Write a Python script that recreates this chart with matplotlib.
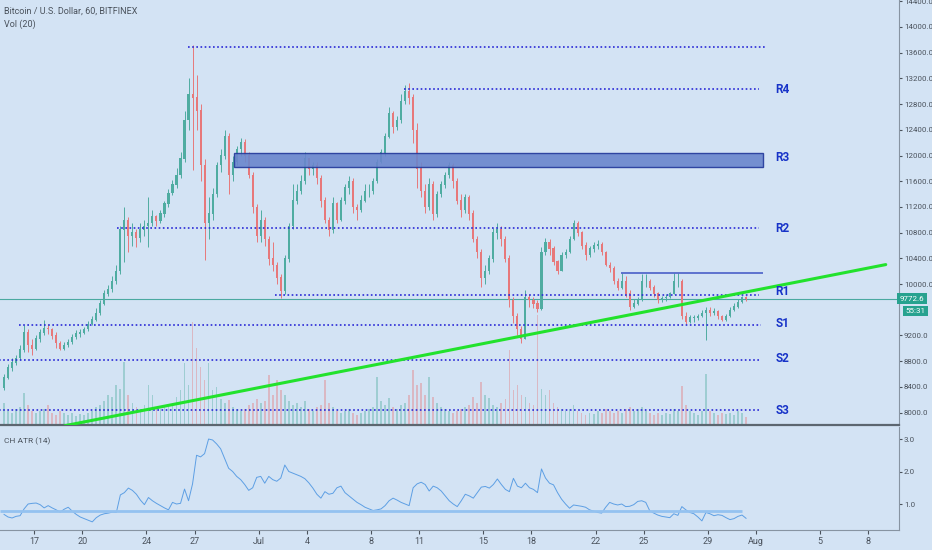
import datetime as dt
import matplotlib
matplotlib.use("Agg")
import matplotlib.pyplot as plt
import matplotlib.dates as mdates
import matplotlib.transforms as mtransforms
from matplotlib.patches import Rectangle
import numpy as np

plt.rcParams['font.family'] = ['Roboto', 'DejaVu Sans']

# 6h candles, starting 15 Jun 2019 00:00 UTC
first_open = 8380
closes = [
    8550, 8700, 8780, 8850, 8980, 9250, 9050, 9000,
    9150, 9250, 9320, 9300, 9200, 9080, 9000, 9050,
    9100, 9180, 9230, 9250, 9300, 9380, 9450, 9550,
    9700, 9850, 9920, 10050, 10200, 10850, 11000, 10750,
    10800, 10720, 10850, 10900, 10950, 11050, 10980, 11100,
    11250, 11420, 11550, 11700, 11950, 12550, 12950, 12900,
    12700, 11850, 10950, 11100, 11400, 11850, 12000, 12300,
    11700, 11900, 12100, 12200, 12000, 11700, 11200, 10750,
    11000, 10700, 10400, 10300, 10100, 9900, 10400, 10900,
    11300, 11450, 11600, 11950, 11800, 11850, 11650, 11300,
    11000, 10850, 11250, 11000, 11300, 11500, 11600, 11200,
    11150, 11300, 11450, 11450, 11600, 11900, 12050, 12300,
    12650, 12450, 12550, 12850, 13000, 12900, 12400, 11800,
    11450, 11200, 11550, 11100, 11400, 11550, 11700, 11850,
    11600, 11300, 11150, 11350, 11100, 10700, 10500, 10100,
    10200, 10400, 10800, 10850, 10700, 10400, 9750, 9500,
    9300, 9150, 9800, 9750, 9700, 9620, 10500, 10650,
    10550, 10350, 10200, 10450, 10500, 10700, 10950, 10800,
    10600, 10450, 10550, 10600, 10620, 10500, 10300, 10250,
    10050, 9950, 10050, 9850, 9650, 9700, 9750, 10050,
    10050, 9950, 9850, 9750, 9780, 9800, 9850, 10050,
    10050, 9500, 9420, 9480, 9480, 9500, 9550, 9600,
    9550, 9580, 9500, 9450, 9500, 9600, 9650, 9720,
    9790, 9772.6,
]
highs = [
    8600, 8760, 8850, 8900, 9050, 9360, 9300, 9150,
    9200, 9300, 9440, 9380, 9320, 9250, 9120, 9100,
    9150, 9220, 9280, 9300, 9330, 9420, 9500, 9620,
    9750, 9900, 9980, 10120, 10300, 10900, 11200, 11050,
    10950, 10850, 10950, 11000, 11350, 11150, 11080, 11150,
    11300, 11480, 11620, 11800, 12050, 12700, 13200, 13720,
    13250, 12800, 11950, 11350, 11500, 11900, 12100, 12400,
    12350, 12000, 12150, 12280, 12250, 12050, 11750, 11250,
    11150, 11050, 10750, 10650, 10350, 10150, 10450, 10950,
    11550, 11550, 11700, 12050, 11950, 11900, 11900, 11700,
    11350, 11050, 11350, 11280, 11350, 11550, 11680, 11650,
    11250, 11380, 11550, 11550, 11650, 11950, 12100, 12350,
    12750, 12700, 12620, 12950, 13100, 13130, 12950, 12500,
    11900, 11550, 11650, 11600, 11450, 11600, 11750, 11900,
    11880, 11650, 11400, 11400, 11380, 11150, 10750, 10550,
    10300, 10450, 10880, 10950, 10900, 10750, 10450, 9800,
    9550, 9350, 9900, 9850, 9800, 9750, 10580, 10720,
    10700, 10600, 10380, 10500, 10550, 10750, 11000, 10980,
    10820, 10650, 10600, 10650, 10680, 10650, 10520, 10350,
    10280, 10100, 10170, 10120, 9900, 9760, 9800, 10150,
    10150, 10080, 9980, 9870, 9820, 9840, 9880, 10170,
    10170, 10080, 9560, 9520, 9520, 9540, 9590, 9650,
    9640, 9620, 9600, 9520, 9540, 9650, 9700, 9760,
    9820, 9810,
]
lows = [
    8350, 8520, 8650, 8740, 8820, 8950, 8950, 8900,
    8980, 9100, 9200, 9220, 9150, 9000, 8970, 8980,
    9020, 9060, 9150, 9180, 9220, 9270, 9360, 9430,
    9520, 9680, 9820, 9880, 10000, 10150, 10350, 10500,
    10600, 10580, 10650, 10750, 10580, 10900, 10900, 10950,
    11050, 11200, 11380, 11500, 11650, 11900, 12400, 11770,
    12400, 11600, 10370, 10700, 11000, 11350, 11750, 11950,
    11400, 11600, 11850, 12000, 11900, 11650, 11100, 10650,
    10650, 10600, 10300, 10200, 10000, 9780, 9850, 10350,
    10850, 11250, 11400, 11550, 11700, 11700, 11550, 11200,
    10950, 10750, 10800, 10950, 10980, 11250, 11400, 11100,
    11000, 11120, 11280, 11350, 11400, 11580, 11880, 12000,
    12280, 12350, 12400, 12500, 12800, 12800, 12200, 11500,
    11350, 11100, 11150, 11000, 11050, 11350, 11500, 11650,
    11500, 11250, 11050, 11100, 11000, 10650, 10400, 9950,
    10000, 10150, 10350, 10700, 10600, 10350, 9650, 9400,
    9200, 9080, 9150, 9650, 9620, 9560, 9600, 10450,
    10450, 10300, 10150, 10200, 10400, 10480, 10680, 10750,
    10550, 10380, 10420, 10500, 10550, 10450, 10280, 10180,
    10000, 9900, 9920, 9800, 9600, 9620, 9680, 9740,
    9950, 9900, 9800, 9700, 9720, 9740, 9780, 9840,
    9950, 9450, 9380, 9400, 9410, 9440, 9480, 9130,
    9500, 9520, 9460, 9420, 9420, 9490, 9580, 9620,
    9700, 9740,
]
volumes = [
    22, 14, 12, 16, 18, 32, 20, 14, 12, 14, 16, 20, 12, 10, 14, 12,
    10, 12, 9, 11, 10, 12, 14, 18, 20, 24, 30, 28, 40, 36, 63, 30,
    22, 18, 16, 20, 40, 30, 18, 16, 20, 18, 22, 28, 35, 62, 40, 103,
    77, 58, 45, 62, 35, 38, 26, 22, 25, 18, 16, 14, 16, 20, 22, 26,
    22, 24, 50, 30, 45, 35, 30, 24, 20, 22, 18, 24, 16, 14, 18, 20,
    45, 22, 18, 14, 12, 14, 16, 12, 10, 12, 14, 16, 18, 48, 24, 20,
    27, 18, 16, 20, 22, 30, 55, 40, 42, 30, 48, 28, 22, 18, 16, 14,
    12, 14, 16, 18, 20, 28, 22, 43, 30, 27, 20, 18, 22, 26, 75, 35,
    40, 30, 28, 22, 20, 110, 36, 30, 35, 22, 18, 16, 14, 16, 20, 14,
    12, 10, 12, 11, 14, 12, 16, 14, 12, 14, 12, 16, 18, 14, 16, 18,
    14, 12, 10, 12, 10, 12, 11, 16, 14, 39, 20, 14, 12, 10, 14, 51,
    14, 12, 10, 12, 11, 12, 10, 14, 12, 8,
]
atr = [
    0.68, 0.60, 0.57, 0.62, 0.64, 0.85, 1.00, 1.02,
    1.03, 0.98, 0.88, 0.95, 0.88, 0.82, 0.75, 0.84,
    0.90, 0.78, 0.68, 0.60, 0.55, 0.50, 0.45, 0.58,
    0.66, 0.70, 0.72, 0.75, 0.74, 1.28, 1.35, 1.49,
    1.42, 1.30, 1.12, 0.98, 1.20, 1.10, 1.02, 0.95,
    0.88, 0.82, 1.05, 1.00, 1.02, 1.46, 1.10, 1.62,
    2.50, 2.45, 2.55, 3.00, 2.97, 2.85, 2.70, 2.40,
    2.10, 2.00, 1.85, 1.75, 1.60, 1.42, 1.50, 1.82,
    1.85, 1.64, 1.85, 1.75, 1.70, 1.80, 2.20, 2.00,
    1.95, 1.90, 1.85, 1.78, 1.65, 1.49, 1.30, 1.18,
    1.38, 1.30, 1.33, 1.50, 1.55, 1.35, 1.25, 1.15,
    1.05, 0.98, 0.90, 0.85, 0.80, 0.82, 0.85, 0.95,
    1.10, 1.18, 1.12, 1.05, 1.00, 0.95, 1.50, 1.62,
    1.67, 1.60, 1.40, 1.55, 1.50, 1.40, 1.25, 1.10,
    1.00, 0.92, 1.10, 1.30, 1.25, 1.18, 1.35, 1.52,
    1.54, 1.49, 1.60, 1.77, 1.60, 1.45, 1.38, 1.79,
    1.55, 1.50, 1.64, 1.50, 1.45, 1.35, 2.08, 1.80,
    1.64, 1.59, 1.35, 1.15, 1.00, 0.87, 0.97, 0.95,
    0.93, 0.90, 0.82, 0.78, 0.74, 0.72, 0.90, 1.05,
    1.00, 0.97, 1.00, 0.92, 0.93, 0.98, 1.08, 1.10,
    1.05, 0.79, 0.72, 0.66, 0.62, 0.60, 0.58, 0.70,
    0.65, 0.92, 0.82, 0.74, 0.70, 0.60, 0.48, 0.74,
    0.70, 0.64, 0.67, 0.65, 0.58, 0.52, 0.55, 0.62,
    0.66, 0.56,
]
atr_level = 0.79
last_price = 9772.6

# drawn levels: (start, end, price)
dotted_levels = [
    (dt.datetime(2019, 6, 26, 14), dt.datetime(2019, 8, 1, 15), 13690),
    (dt.datetime(2019, 7, 10, 2), dt.datetime(2019, 8, 1, 5), 13035),
    (dt.datetime(2019, 6, 22, 4), dt.datetime(2019, 8, 1, 5), 10872),
    (dt.datetime(2019, 7, 2, 1), dt.datetime(2019, 8, 1, 5), 9830),
    (dt.datetime(2019, 6, 16, 2), dt.datetime(2019, 8, 1, 8), 9363),
    (dt.datetime(2019, 6, 14, 12), dt.datetime(2019, 8, 1, 5), 8818),
    (dt.datetime(2019, 6, 14, 12), dt.datetime(2019, 8, 1, 8), 8040),
]
range_top = (dt.datetime(2019, 7, 23, 14), dt.datetime(2019, 8, 1, 10), 10172)
zone = (dt.datetime(2019, 6, 29, 11), dt.datetime(2019, 8, 1, 10), 11820, 12040)
trend = ([dt.datetime(2019, 6, 18, 22), dt.datetime(2019, 8, 9, 2)], [7796, 10303])
level_names = ["R4", "R3", "R2", "R1", "S1", "S2", "S3"]
level_label_prices = [13035, 11977, 10872, 9877, 9380, 8834, 8025]

date_ticks = [dt.datetime(2019, 6, d) for d in (17, 20, 24, 27)] + \
    [dt.datetime(2019, 7, d) for d in (1, 4, 8, 11, 15, 18, 22, 25, 29)] + \
    [dt.datetime(2019, 8, d) for d in (1, 5, 8)]
date_labels = ["17", "20", "24", "27", "Jul", "4", "8", "11", "15", "18",
               "22", "25", "29", "Aug", "5", "8"]
price_ticks = [8000, 8400, 8800, 9200, 10000, 10400, 10800, 11200, 11600,
               12000, 12400, 12800, 13200, 13600, 14000, 14400]

BG = "#d3e3f4"
UP = "#4faca1"
DN = "#e7787a"
LVL = "#2a2ad6"
TXT = "#4a525c"

opens = np.r_[first_open, closes[:-1]]
closes_a = np.array(closes)
hi = np.maximum(np.array(highs), np.maximum(opens, closes_a))
lo = np.minimum(np.array(lows), np.minimum(opens, closes_a))
t0 = mdates.date2num(dt.datetime(2019, 6, 15))
t = t0 + (np.arange(len(closes)) + 0.5) * 0.25
up = closes_a >= opens
cols = np.where(up, UP, DN)

fig = plt.figure(figsize=(9.32, 5.5), dpi=100, facecolor=BG)
rect = [0, 1 - 425 / 550, 899 / 932, 425 / 550]
vax = fig.add_axes(rect)
ax = fig.add_axes(rect, sharex=vax)
ax2 = fig.add_axes([0, 1 - 530 / 550, 899 / 932, 103 / 550], sharex=vax)
vax.set_zorder(0)
ax.set_zorder(1)
ax.patch.set_visible(False)
vax.set_facecolor(BG)
ax2.set_facecolor(BG)

x0 = mdates.date2num(dt.datetime(2019, 6, 14, 20, 57))
x1 = mdates.date2num(dt.datetime(2019, 8, 9, 21, 50))
ax.set_xlim(x0, x1)

# volume
vax.bar(t, volumes, width=0.11, color=cols, alpha=0.4, linewidth=0)
vax.set_ylim(0, 425)
vax.axis("off")

# candles
ax.vlines(t, lo, hi, color=cols, lw=0.7, zorder=3)
ax.bar(t, np.abs(closes_a - opens) + 8, bottom=np.minimum(opens, closes_a) - 4,
       width=0.13, color=cols, linewidth=0, zorder=3)
ax.set_ylim(7807, 14420)

# levels
for a, b, p in dotted_levels:
    ax.hlines(p, mdates.date2num(a), mdates.date2num(b), colors=LVL, lw=1.2,
              linestyles=(0, (1, 1.5)), zorder=4)
ax.hlines(range_top[2], mdates.date2num(range_top[0]), mdates.date2num(range_top[1]),
          colors="#4a5fc8", lw=1.2, zorder=4)
za, zb = mdates.date2num(zone[0]), mdates.date2num(zone[1])
ax.add_patch(Rectangle((za, zone[2]), zb - za, zone[3] - zone[2], facecolor="#6a86cc",
                       edgecolor="#23389a", lw=1, alpha=0.9, zorder=4))
ax.plot(mdates.date2num(trend[0]), trend[1], color="#22e22c", lw=2.2, zorder=5,
        solid_capstyle="round")
ax.axhline(last_price, color="#4aa9a0", lw=0.8, zorder=2)

lab_x = mdates.date2num(dt.datetime(2019, 8, 2, 16))
for name, p in zip(level_names, level_label_prices):
    ax.text(lab_x, p, name, color="#1733c8", fontsize=8.5, fontweight="bold",
            ha="center", va="center", zorder=6)

# price scale
ax.yaxis.tick_right()
ax.set_yticks(price_ticks)
ax.set_yticklabels([f"{v:.1f}" for v in price_ticks])
ax.tick_params(axis="y", labelsize=5.7, colors=TXT, length=2.5, pad=1)
ax.tick_params(axis="x", bottom=False, labelbottom=False)
for s in ("left", "top"):
    ax.spines[s].set_visible(False)
ax.spines["right"].set_color("#8794a2")
ax.spines["bottom"].set_color("#5c6670")
ax.spines["bottom"].set_linewidth(1.6)

tr = mtransforms.blended_transform_factory(ax.transAxes, ax.transData)
ax.text(1.001, last_price, "9772.6", transform=tr, ha="left", va="center",
        fontsize=5.8, color="white", zorder=7,
        bbox=dict(boxstyle="square,pad=0.3", fc="#27a28f", ec="none"))
ax.text(1.007, 9581, "55:31", transform=tr, ha="left", va="center",
        fontsize=5.8, color="white", zorder=7,
        bbox=dict(boxstyle="square,pad=0.3", fc="#27a28f", ec="none"))

# ATR pane
ax2.plot(t, atr, color="#5d9fe4", lw=0.7)
ax2.hlines(atr_level, x0, mdates.date2num(dt.datetime(2019, 7, 31, 3)),
           colors="#94c2f0", lw=2)
ax2.set_ylim(0.2, 3.37)
ax2.yaxis.tick_right()
ax2.set_yticks([1.0, 2.0, 3.0])
ax2.set_yticklabels(["1.0", "2.0", "3.0"])
ax2.tick_params(axis="y", labelsize=5.7, colors=TXT, length=2.5, pad=1)
ax2.set_xticks(mdates.date2num(date_ticks))
ax2.set_xticklabels(date_labels)
ax2.tick_params(axis="x", labelsize=6.5, colors=TXT, length=3, pad=2)
for s in ("left", "top"):
    ax2.spines[s].set_visible(False)
ax2.spines["right"].set_color("#8794a2")
ax2.spines["bottom"].set_color("#8794a2")
ax2.set_xlim(x0, x1)

fig.text(4 / 932, 1 - 11 / 550, "Bitcoin / U.S. Dollar, 60, BITFINEX", fontsize=6.5,
         color=TXT, va="center")
fig.text(4 / 932, 1 - 24 / 550, "Vol (20)", fontsize=6.5, color=TXT, va="center")
fig.text(4 / 932, 1 - 441 / 550, "CH ATR (14)", fontsize=6, color=TXT, va="center")

fig.savefig("out.png", dpi=100, facecolor=BG)
